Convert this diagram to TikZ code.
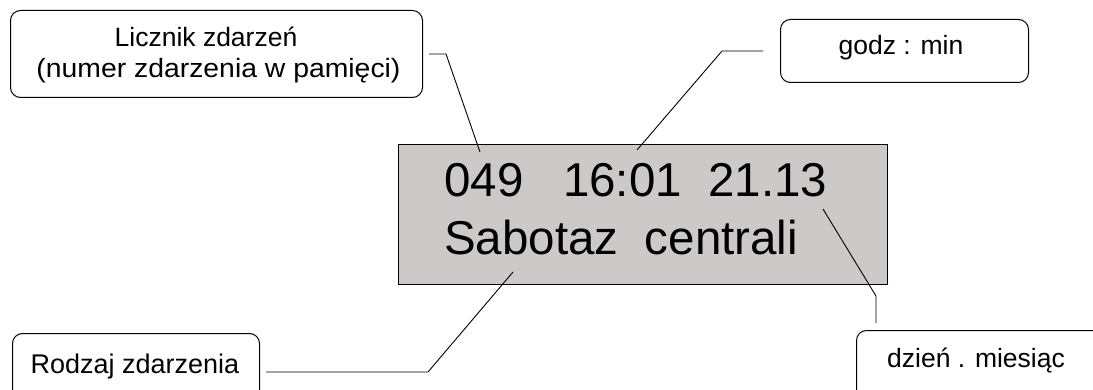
\documentclass[tikz,border=0pt]{standalone}
\usepackage{fontspec}
\setmainfont{Liberation Sans}
\usetikzlibrary{calc}
\definecolor{lcdgray}{RGB}{204,201,200}
\begin{document}
\begin{tikzpicture}[x=1pt,y=-1pt,
  lbox/.style={draw=black, line width=1pt, rounded corners=10pt, inner sep=0pt, anchor=north west},
  ltxt/.style={font=\fontsize{26.5}{30}\selectfont, inner sep=0pt, anchor=base},
  big/.style={font=\fontsize{47.5}{56}\selectfont, inner sep=0pt, anchor=base west},
  leader/.style={draw=black, line width=0.9pt},
  lcd/.style={draw=black, fill=lcdgray, line width=1.3pt, inner sep=0pt, anchor=north west},
]
\useasboundingbox (0,0) rectangle (1093,390);
\clip (0,0) rectangle (1093,390);
\fill[white] (0,0) rectangle (1093,390);

% main display
\node[lcd, minimum width=489pt, minimum height=140pt] (disp) at (398,144) {};
\node[big] (line1) at (444,197) {049\ \ \ 16:01\ \ 21.13};
\node[big] (line2) at (444,255) {Sabotaz\ \ centrali};

% label boxes
\node[lbox, minimum width=412pt, minimum height=87pt] (licz) at (10,10) {};
\node[ltxt] (liczA) at (206,47) {Licznik zdarzeń};
\node[ltxt] (liczB) at (218.5,78) {\scalebox{1.07}[1]{(numer zdarzenia w pamięci)}};

\node[lbox, minimum width=248pt, minimum height=63pt] (godz) at (780,19) {};
\node[ltxt] (godzT) at (901,55) {godz : min};

\node[lbox, minimum width=247pt, minimum height=77pt] (rodz) at (12,333) {};
\node[ltxt, font=\fontsize{27}{30}\selectfont] (rodzT) at (135,373) {Rodzaj zdarzenia};

\node[lbox, minimum width=260pt, minimum height=80pt] (dzien) at (856,330) {};
\node[ltxt] (dzienT) at (976,367) {dzień . miesiąc};

% leader end points inside display
\coordinate (p1) at (480,152);
\coordinate (p2) at (637,150);
\coordinate (p3) at (513,272);
\coordinate (p4) at (823,209);

\draw[leader] ([xshift=6pt]licz.east) -- ++(17,0) -- (p1);
\draw[leader] ([xshift=-17pt]godz.west) -- ++(-41,0) -- (p2);
\draw[leader] ([xshift=6pt]rodz.east) -- ++(162,0) -- (p3);
\draw[leader] ([shift={(20,-7)}]dzien.north west) -- ++(0,-27) -- (p4);
\end{tikzpicture}
\end{document}
